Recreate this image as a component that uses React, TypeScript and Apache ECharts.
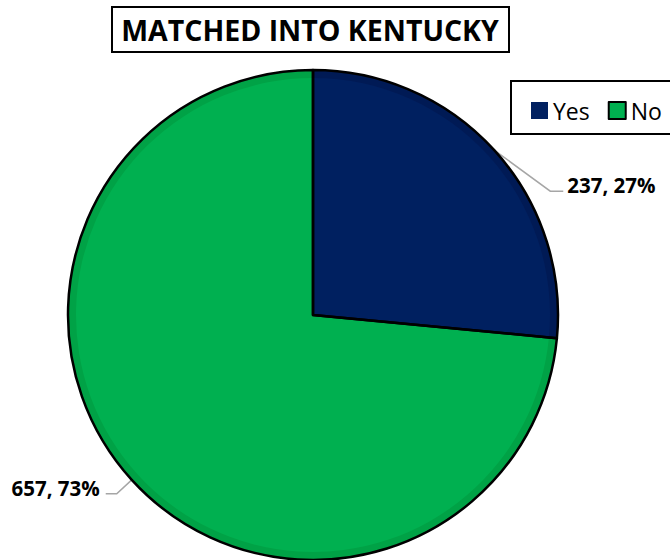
import React, { useEffect, useRef } from "react";
import * as echarts from "echarts";

const categories = ["Yes", "No"];
const counts = [237, 657];
const colors = ["#002060", "#00B050"];
const bevelColors = ["#001A55", "#00A246"];
const titleText = "MATCHED INTO KENTUCKY";

const FONT = "'Open Sans', 'DejaVu Sans', sans-serif";

export default function App() {
  const ref = useRef<HTMLDivElement>(null);
  useEffect(() => {
    if (!ref.current) return;
    const chart = echarts.init(ref.current, null, { renderer: "svg" });
    const pieData = categories.map((name, i) => ({
      name,
      value: counts[i],
      itemStyle: { color: bevelColors[i] },
    }));
    const innerData = categories.map((name, i) => ({
      name,
      value: counts[i],
      itemStyle: { color: colors[i] },
    }));
    const outlineData = categories.map((name, i) => ({
      name,
      value: counts[i],
    }));
    chart.setOption({
      animation: false,
      backgroundColor: "#ffffff",
      legend: {
        left: 531,
        top: 99,
        padding: 0,
        itemWidth: 17,
        itemHeight: 17,
        itemGap: 18,
        icon: "rect",
        data: categories.map((name, i) => ({
          name,
          itemStyle: {
            color: colors[i],
            borderColor: i === 1 ? "#000" : colors[i],
            borderWidth: i === 1 ? 2 : 0,
          },
        })),
        textStyle: {
          fontFamily: FONT,
          fontSize: 23,
          color: "#000",
          lineHeight: 17,
          height: 17,
          padding: [0, 0, 0, 0],
        },
        selectedMode: false,
      },
      graphic: [
        {
          type: "rect",
          shape: { x: 112, y: 7, width: 397, height: 45 },
          style: { fill: "#fff", stroke: "#000", lineWidth: 2 },
          z: 1,
        },
        {
          type: "text",
          x: 310,
          y: 30,
          style: {
            text: titleText,
            fontFamily: FONT,
            fontWeight: "bold",
            fontSize: 28.5,
            fill: "#000",
            align: "center",
            verticalAlign: "middle",
          },
          z: 2,
        },
        {
          type: "rect",
          shape: { x: 511, y: 81, width: 200, height: 53 },
          style: { fill: "#fff", stroke: "#000", lineWidth: 2 },
          z: 0,
        },
      ],
      series: [
        {
          type: "pie",
          z: 3,
          center: [313, 315],
          radius: 237,
          startAngle: 90,
          silent: true,
          data: innerData,
          label: { show: false },
          labelLine: { show: false },
          itemStyle: { borderWidth: 0 },
        },
        {
          type: "pie",
          z: 2,
          center: [313, 315],
          radius: 245,
          startAngle: 90,
          percentPrecision: 0,
          data: pieData,
          itemStyle: { borderWidth: 0 },
          label: {
            show: true,
            position: "outside",
            formatter: "{c}, {d}%",
            fontFamily: FONT,
            fontWeight: "bold",
            fontSize: 20.5,
            color: "#000",
          },
          labelLine: {
            show: true,
            length: 10,
            length2: 10,
            lineStyle: { color: "#A6A6A6", width: 1.5 },
          },
          labelLayout: (params: any) => {
            const pts = params.labelLinePoints;
            if (!pts || !pts[0]) return {};
            const s = pts[0];
            if (params.dataIndex === 0) {
              return {
                x: s[0] + 73,
                y: s[1] + 35,
                align: "left",
                verticalAlign: "middle",
                labelLinePoints: [
                  [s[0], s[1]],
                  [s[0] + 56, s[1] + 41],
                  [s[0] + 69, s[1] + 41],
                ],
              };
            }
            return {
              x: s[0] - 32,
              y: s[1] + 8,
              align: "right",
              verticalAlign: "middle",
              labelLinePoints: [
                [s[0], s[1]],
                [s[0] - 15, s[1] + 14],
                [s[0] - 26, s[1] + 14],
              ],
            };
          },
        },
        {
          type: "pie",
          z: 4,
          center: [313, 315],
          radius: 245,
          startAngle: 90,
          silent: true,
          data: outlineData,
          label: { show: false },
          labelLine: { show: false },
          itemStyle: {
            color: "rgba(0,0,0,0)",
            borderColor: "#000",
            borderWidth: 2.5,
          },
        },
      ],
    });
    return () => chart.dispose();
  }, []);
  return (
    <div
      ref={ref}
      style={{ position: "fixed", left: 0, top: 0, width: 670, height: 560 }}
    />
  );
}
